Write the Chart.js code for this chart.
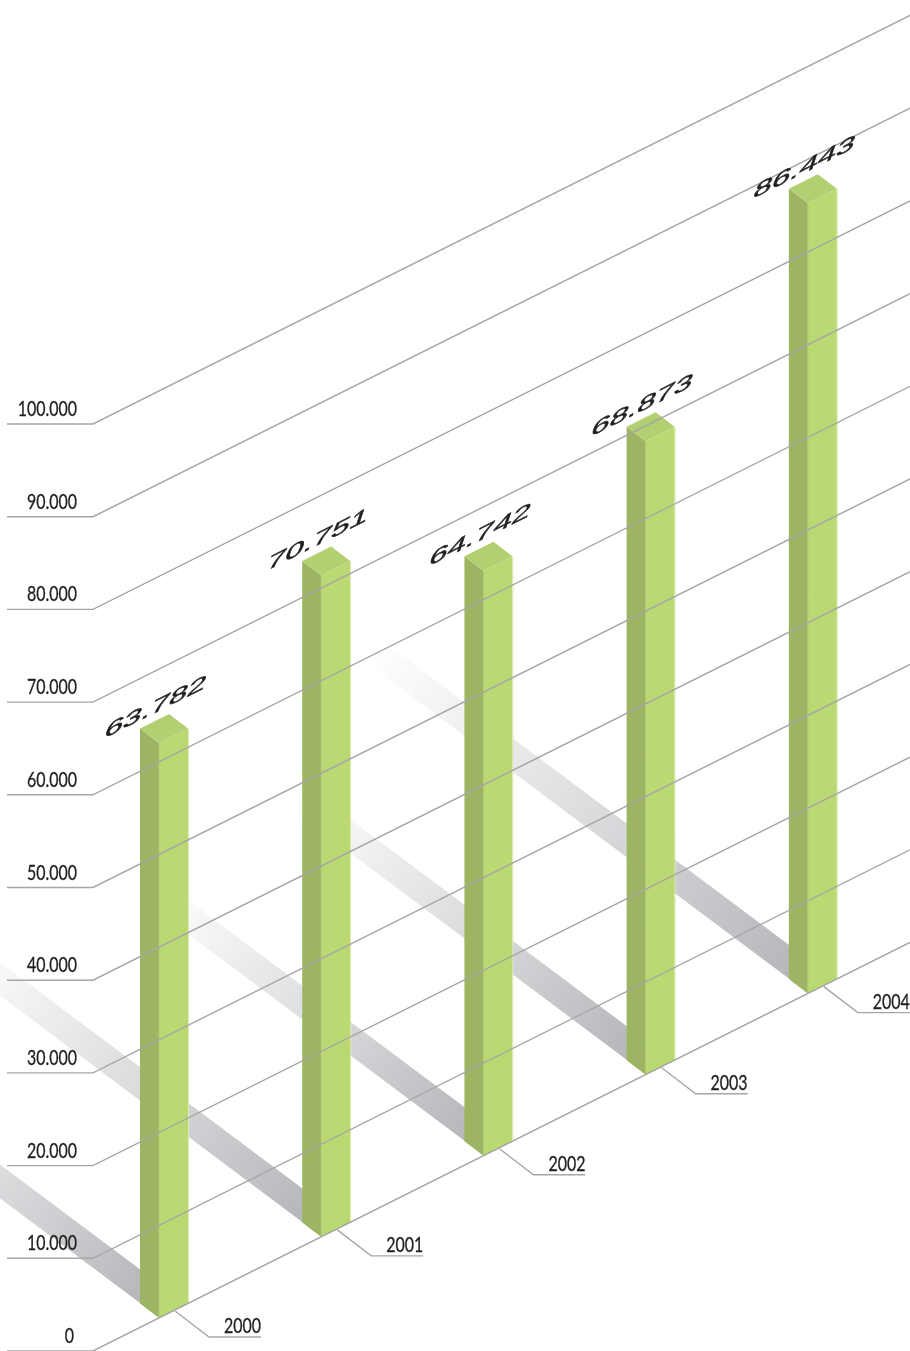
<!DOCTYPE html>
<html>
<head>
<meta charset="utf-8">
<style>
  html, body { margin: 0; padding: 0; background: #fff; }
  canvas { display: block; }
</style>
<script src="https://cdn.jsdelivr.net/npm/chart.js@4/dist/chart.umd.min.js"></script>
</head>
<body>
<canvas id="isoChart" width="910" height="1351"></canvas>
<script>
// Data
const years = [2000, 2001, 2002, 2003, 2004];
const printedValues = ["63.782", "70.751", "64.742", "68.873", "86.443"];
// bar heights as drawn, read against the gridlines (the picture's bars do not quite match the printed numbers)
const barHeights = [62030, 71360, 63100, 68340, 85270];
const yTicks = [0, 10000, 20000, 30000, 40000, 50000, 60000, 70000, 80000, 90000, 100000];
const yTickLabels = ["0", "10.000", "20.000", "30.000", "40.000", "50.000", "60.000", "70.000", "80.000", "90.000", "100.000"];

const SLOPE = 0.5;
const LEFT_FACE = 19, RIGHT_FACE = 29, FACE_DROP = 14.5;
const SHADOW_REACH = 0.537, SHADOW_SLOPE = 0.748;
const TEXT = "#231f20";
const LINE = "#a6a6a6";

function poly(ctx, pts, fill) {
  ctx.beginPath();
  pts.forEach((p, i) => (i ? ctx.lineTo(p[0], p[1]) : ctx.moveTo(p[0], p[1])));
  ctx.closePath();
  ctx.fillStyle = fill;
  ctx.fill();
}

// labels are set in Lato squeezed sideways, close to the condensed face of the original
function narrowText(ctx, text, x, y) {
  ctx.save();
  ctx.translate(x, y);
  ctx.scale(0.76, 1);
  ctx.font = '21px Lato, sans-serif';
  ctx.fillStyle = TEXT;
  ctx.strokeStyle = TEXT;
  ctx.lineWidth = 0.3;
  ctx.textAlign = "right";
  ctx.textBaseline = "alphabetic";
  ctx.fillText(text, 0, 0);
  ctx.strokeText(text, 0, 0);
  ctx.restore();
}

// every bar element gives its corner points, sheared along the floor line
function corners(chart, bar) {
  const lift = SLOPE * (bar.x - chart.chartArea.left);
  return { x: bar.x, top: bar.y - lift, base: bar.base - lift };
}

const isoPlugin = {
  id: "iso",
  beforeDatasetsDraw(chart) {
    const ctx = chart.ctx;
    chart.getDatasetMeta(0).data.forEach((bar) => {
      const c = corners(chart, bar);
      const reach = SHADOW_REACH * (c.base - c.top);
      const nx = c.x - LEFT_FACE, ny = c.base - 15;
      const fx = nx - reach, fy = ny - reach * SHADOW_SLOPE;
      const grad = ctx.createLinearGradient(nx, ny, fx, fy);
      grad.addColorStop(0, "#b6b7ba");
      grad.addColorStop(0.5, "#dcdddf");
      grad.addColorStop(1, "#ffffff");
      poly(ctx, [[nx, ny], [nx + 25, ny - 15], [fx + 25, fy - 15], [fx, fy]], grad);
    });
  },
  afterDatasetsDraw(chart) {
    const ctx = chart.ctx;
    const area = chart.chartArea;
    const yScale = chart.scales.y;

    // bars
    chart.getDatasetMeta(0).data.forEach((bar) => {
      const c = corners(chart, bar);
      const lx = c.x - LEFT_FACE, rx = c.x + RIGHT_FACE;
      poly(ctx, [[lx, c.top - FACE_DROP], [c.x, c.top], [c.x, c.base], [lx, c.base - FACE_DROP]], "#9db462");
      poly(ctx, [[c.x, c.top], [rx, c.top - FACE_DROP], [rx, c.base - FACE_DROP], [c.x, c.base]], "#bbd973");
      poly(ctx, [[lx, c.top - FACE_DROP], [c.x, c.top], [rx, c.top - FACE_DROP], [lx + RIGHT_FACE, c.top - 2 * FACE_DROP]], "#b2cf72");
      ctx.strokeStyle = "#dcebb2";
      ctx.lineWidth = 1;
      ctx.beginPath();
      ctx.moveTo(rx + 0.5, c.top - FACE_DROP);
      ctx.lineTo(rx + 0.5, c.base - FACE_DROP);
      ctx.stroke();
      ctx.strokeStyle = "#b0c878";
      ctx.beginPath();
      ctx.moveTo(c.x, c.top);
      ctx.lineTo(c.x, c.base);
      ctx.stroke();
    });

    // gridlines sit on top of the bars
    ctx.strokeStyle = LINE;
    ctx.lineWidth = 1.4;
    yTicks.forEach((v, i) => {
      const y = yScale.getPixelForValue(v);
      ctx.beginPath();
      ctx.moveTo(7, y);
      ctx.lineTo(area.left, y);
      ctx.lineTo(area.right, y - SLOPE * (area.right - area.left));
      ctx.stroke();
      narrowText(ctx, yTickLabels[i], i ? 77 : 74, y - 8);
    });

    // year tags and printed values
    chart.getDatasetMeta(0).data.forEach((bar, i) => {
      const c = corners(chart, bar);
      ctx.strokeStyle = LINE;
      ctx.lineWidth = 1.4;
      ctx.beginPath();
      ctx.moveTo(c.x + 16, c.base - 7);
      ctx.lineTo(c.x + 50, c.base + 19);
      ctx.lineTo(c.x + 102, c.base + 19);
      ctx.stroke();

      narrowText(ctx, String(years[i]), c.x + 102, c.base + 15);

      ctx.save();
      ctx.transform(1.5, -0.75, -0.33, 1, c.x - 56, c.top - 4);
      ctx.font = '22px "Liberation Sans", sans-serif';
      ctx.fillStyle = TEXT;
      ctx.strokeStyle = TEXT;
      ctx.lineWidth = 0.5;
      ctx.textAlign = "left";
      ctx.fillText(printedValues[i], 0, 0);
      ctx.strokeText(printedValues[i], 0, 0);
      ctx.restore();
    });
  },
};

const isoChart = new Chart(document.getElementById("isoChart").getContext("2d"), {
  type: "bar",
  data: {
    datasets: [
      {
        label: "Value",
        data: years.map((year, i) => ({ x: year, y: barHeights[i] })),
        backgroundColor: "transparent", // faces are painted by the plugin from these elements
        barThickness: 29,
      },
    ],
  },
  options: {
    responsive: false,
    animation: false,
    devicePixelRatio: 1,
    layout: { padding: { top: 424, left: 0, right: 0, bottom: 0 } },
    plugins: { legend: { display: false }, tooltip: { enabled: false } },
    scales: {
      x: { type: "linear", display: false, offset: false, min: 1999.593, max: 2004.63 },
      y: {
        min: 0,
        max: 100000,
        afterFit(scale) {
          scale.width = 93;
          scale.paddingTop = 0;
          scale.paddingBottom = 0;
        },
        border: { display: false },
        grid: { display: false },
        ticks: { display: false },
      },
    },
  },
  plugins: [isoPlugin],
});
</script>
</body>
</html>
